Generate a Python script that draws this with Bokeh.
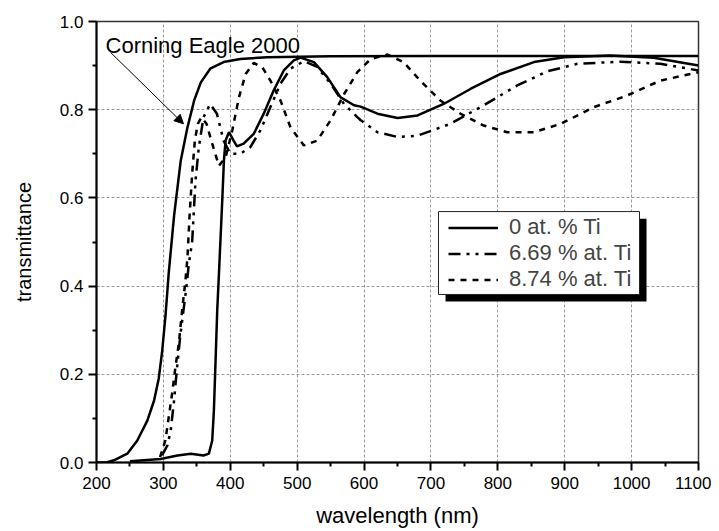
from bokeh.plotting import figure
from bokeh.models import (Range1d, FixedTicker, Legend, LegendItem, BoxAnnotation,
                          Label, Arrow, NormalHead)
from bokeh.embed import file_html
from bokeh.resources import INLINE

# ---------------- data ----------------
eagle_wl = [200, 215, 226, 246, 261, 276, 286, 293, 298, 303, 308, 316, 326, 336, 346,
            356, 370, 390, 415, 455, 550, 700, 900, 1100]
eagle_t = [0.0, 0.0, 0.005, 0.02, 0.05, 0.095, 0.14, 0.19, 0.25, 0.33, 0.43,
           0.56, 0.685, 0.760, 0.821, 0.862, 0.893, 0.908, 0.915, 0.919, 0.921, 0.922, 0.922, 0.922]

ti0_wl = [250, 296, 321, 341, 360, 368, 373, 375.5, 378, 380.5, 383.5, 388, 390.5, 393, 398,
          405, 410, 420, 435, 450, 465, 480, 495, 505, 525, 545, 565, 585, 595, 620, 650,
          680, 719, 759, 804, 854, 899, 968, 1033, 1100]
ti0_t = [0.003, 0.008, 0.016, 0.02, 0.016, 0.02, 0.05, 0.118, 0.231, 0.345, 0.443, 0.594,
         0.685, 0.730, 0.749, 0.730, 0.717, 0.723, 0.745, 0.791, 0.844, 0.889, 0.912, 0.918,
         0.908, 0.874, 0.828, 0.81, 0.807, 0.791, 0.781, 0.787, 0.813, 0.847, 0.881, 0.908,
         0.919, 0.923, 0.918, 0.90]

ti669_wl = [298, 306, 311, 316, 320, 325, 330, 334.5, 338, 343, 345, 348, 353, 360, 370, 380,
            390, 400, 415, 430, 445, 460, 475, 490, 510, 530, 550, 570, 590, 595, 620, 650,
            680, 729, 779, 829, 874, 919, 983, 1043, 1100]
ti669_t = [0.016, 0.039, 0.073, 0.141, 0.209, 0.284, 0.345, 0.398, 0.45, 0.50, 0.556, 0.639,
           0.715, 0.783, 0.813, 0.791, 0.730, 0.700, 0.700, 0.715, 0.753, 0.806, 0.859, 0.893,
           0.910, 0.897, 0.859, 0.813, 0.783, 0.776, 0.749, 0.738, 0.741, 0.768, 0.810, 0.855,
           0.887, 0.904, 0.909, 0.904, 0.889]

ti874_wl = [295, 303, 308, 313, 318, 323, 328, 333, 336, 339, 343, 347, 351.5, 357, 364.5,
            373, 383, 393, 403, 413, 423, 435, 448, 460, 475, 490, 510, 530, 550, 570, 590,
            610, 635, 659, 684, 714, 744, 779, 814, 854, 894, 944, 993, 1043, 1100]
ti874_t = [0.012, 0.05, 0.103, 0.156, 0.216, 0.269, 0.345, 0.413, 0.465, 0.556, 0.655, 0.730,
           0.768, 0.783, 0.768, 0.723, 0.673, 0.692, 0.753, 0.828, 0.881, 0.906, 0.896, 0.866,
           0.821, 0.760, 0.719, 0.730, 0.776, 0.835, 0.885, 0.915, 0.925, 0.908, 0.866, 0.821,
           0.791, 0.764, 0.749, 0.749, 0.768, 0.806, 0.832, 0.866, 0.885]

series_labels = ["0 at. % Ti", "6.69 % at. Ti", "8.74 % at. Ti"]
annotation_text = "Corning Eagle 2000"

x_ticks = [200, 300, 400, 500, 600, 700, 800, 900, 1000, 1100]
x_minor = [250, 350, 450, 550, 650, 750, 850, 950, 1050]
y_ticks = [0.0, 0.2, 0.4, 0.6, 0.8, 1.0]
y_tick_labels = ["0.0", "0.2", "0.4", "0.6", "0.8", "1.0"]
y_minor = [0.1, 0.3, 0.5, 0.7, 0.9]

FONT = "Liberation Sans"

# ---------------- figure ----------------
p = figure(frame_width=602, frame_height=441, output_backend="svg", toolbar_location=None,
           x_range=Range1d(200, 1100), y_range=Range1d(0, 1),
           min_border_left=96, min_border_right=13, min_border_top=21, min_border_bottom=69)
p.background_fill_color = "white"
p.border_fill_color = "white"
p.outline_line_color = "#333333"
p.outline_line_width = 1.5

p.xaxis.ticker = FixedTicker(ticks=x_ticks, minor_ticks=x_minor)
p.yaxis.ticker = FixedTicker(ticks=y_ticks, minor_ticks=y_minor)
p.yaxis.major_label_overrides = {v: s for v, s in zip(y_ticks, y_tick_labels)}

for ax in (p.xaxis[0], p.yaxis[0]):
    ax.axis_line_width = 2
    ax.axis_line_color = "black"
    ax.major_tick_line_width = 2
    ax.minor_tick_line_width = 2
    ax.major_tick_in = 0
    ax.major_tick_out = 8
    ax.minor_tick_in = 0
    ax.minor_tick_out = 4
    ax.major_label_text_font = FONT
    ax.major_label_text_font_size = "17px"
    ax.major_label_text_color = "black"
    ax.axis_label_text_font = FONT
    ax.axis_label_text_font_style = "normal"
    ax.axis_label_text_color = "black"

p.xaxis.axis_label = "wavelength (nm)"
p.yaxis.axis_label = "transmittance"
p.xaxis.axis_label_text_font_size = "22px"
p.yaxis.axis_label_text_font_size = "20px"
p.xaxis.major_label_standoff = 6
p.yaxis.major_label_standoff = 5
p.xaxis.axis_label_standoff = 11
p.yaxis.axis_label_standoff = 22

for g in (p.xgrid[0], p.ygrid[0]):
    g.grid_line_color = "#9a9a9a"
    g.grid_line_dash = "3 2"
    g.grid_line_width = 1

# ---------------- curves ----------------
r_eagle = p.line(eagle_wl, eagle_t, line_color="black", line_width=2.5)
r0 = p.line(ti0_wl, ti0_t, line_color="black", line_width=2.5)
r1 = p.line(ti669_wl, ti669_t, line_color="black", line_width=2.5, line_dash="12 6 3 6 3 6")
r2 = p.line(ti874_wl, ti874_t, line_color="black", line_width=2.5, line_dash="6 6")

# ---------------- annotation ----------------
p.add_layout(Label(x=213.5, y=0.946, text=annotation_text, text_font=FONT,
                   text_font_size="22px", text_color="black", text_baseline="alphabetic"))
p.add_layout(Arrow(x_start=221, y_start=0.930, x_end=330, y_end=0.768,
                   line_color="black", line_width=1,
                   end=NormalHead(size=9, fill_color="black", line_color="black")))

# ---------------- legend with shadow ----------------
p.add_layout(BoxAnnotation(left=721.8, right=1022.3, top=0.553, bottom=0.365,
                           fill_color="black", fill_alpha=1, line_color=None, level="annotation"))
p.add_layout(BoxAnnotation(left=711.3, right=1011.8, top=0.569, bottom=0.381,
                           fill_color="white", fill_alpha=1, line_color="#222222",
                           line_width=1, line_alpha=1, level="annotation"))

legend = Legend(items=[LegendItem(label=series_labels[0], renderers=[r0]),
                       LegendItem(label=series_labels[1], renderers=[r1]),
                       LegendItem(label=series_labels[2], renderers=[r2])],
                location=(352, 170), padding=0, margin=0, spacing=0,
                glyph_width=50, glyph_height=25, label_height=25, label_standoff=11,
                label_text_font=FONT, label_text_font_size="22px",
                border_line_color=None, background_fill_alpha=0)
p.add_layout(legend, "center")

open("out.html", "w").write(file_html(p, INLINE))
